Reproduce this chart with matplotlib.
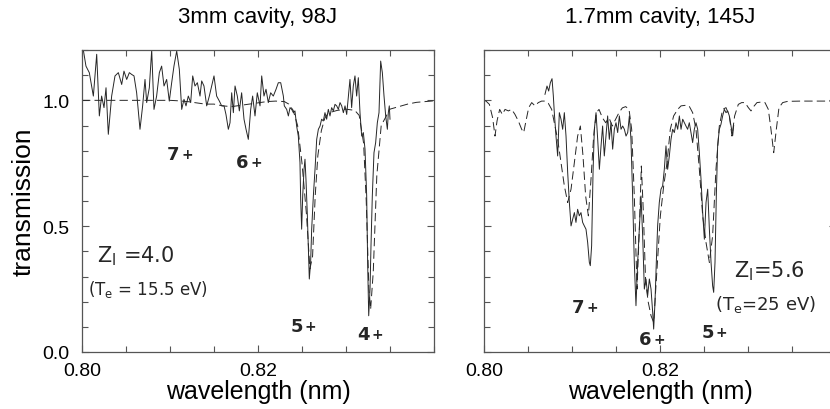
import matplotlib
matplotlib.use("Agg")
import matplotlib.pyplot as plt
from matplotlib.ticker import MultipleLocator, FixedLocator

plt.rcParams["font.family"] = ["Liberation Sans Narrow", "Liberation Sans", "DejaVu Sans"]
plt.rcParams["lines.scale_dashes"] = False
plt.rcParams["mathtext.fontset"] = "custom"
plt.rcParams["mathtext.rm"] = "DejaVu Sans"

ink = '#262626'

# ---- 3mm cavity, 98J : measured (solid) and model (dashed) ----
wl_meas_a = [0.80015, 0.80045, 0.80083, 0.80129, 0.80167, 0.80197, 0.80223, 0.80250, 0.80273, 0.80299,
             0.80337, 0.80375, 0.80413, 0.80451, 0.80477, 0.80508, 0.80538, 0.80564, 0.80591, 0.80621,
             0.80659, 0.80689, 0.80716, 0.80735, 0.80765, 0.80792, 0.80818, 0.80848, 0.80879, 0.80905,
             0.80932, 0.80962, 0.80992, 0.81019, 0.81045, 0.81076, 0.81106, 0.81133, 0.81159, 0.81182,
             0.81208, 0.81235, 0.81258, 0.81284, 0.81311, 0.81341, 0.81360, 0.81386, 0.81417, 0.81447,
             0.81473, 0.81500, 0.81530, 0.81561, 0.81587, 0.81614, 0.81636, 0.81663, 0.81682, 0.81701,
             0.81720, 0.81739, 0.81765, 0.81788, 0.81814, 0.81841, 0.81864, 0.81890, 0.81917, 0.81939,
             0.81966, 0.81992, 0.82023, 0.82042, 0.82068, 0.82091, 0.82117, 0.82144, 0.82174, 0.82205,
             0.82231, 0.82258, 0.82288, 0.82299, 0.82326, 0.82345, 0.82364, 0.82383, 0.82402, 0.82420,
             0.82439, 0.82458, 0.82477, 0.82485, 0.82496, 0.82508, 0.82523, 0.82534, 0.82545, 0.82561,
             0.82572, 0.82583, 0.82598, 0.82610, 0.82629, 0.82648, 0.82667, 0.82686, 0.82705, 0.82723,
             0.82742, 0.82761, 0.82780, 0.82799, 0.82818, 0.82837, 0.82856, 0.82875, 0.82894, 0.82913,
             0.82932, 0.82951, 0.82970, 0.82989, 0.83008, 0.83027, 0.83045, 0.83064, 0.83083, 0.83102,
             0.83121, 0.83140, 0.83159, 0.83178, 0.83197, 0.83216, 0.83235, 0.83246, 0.83258, 0.83273,
             0.83284, 0.83299, 0.83318, 0.83337, 0.83356, 0.83375, 0.83394, 0.83413, 0.83432, 0.83451,
             0.83470, 0.83481, 0.83492, 0.83500]
tr_meas_a = [1.200, 1.136, 1.110, 1.017, 1.183, 0.938, 1.017, 0.971, 1.050, 0.865,
             1.017, 1.097, 1.110, 1.063, 1.116, 1.083, 1.110, 1.103, 1.097, 1.030,
             0.885, 0.978, 1.083, 0.991, 1.050, 1.200, 0.964, 1.017, 1.110, 1.136,
             1.057, 1.083, 0.997, 1.070, 1.136, 1.196, 1.123, 0.964, 1.004, 0.978,
             1.017, 0.991, 1.097, 1.057, 1.070, 1.017, 1.077, 1.057, 0.978, 1.017,
             1.057, 1.097, 1.017, 0.997, 0.978, 0.978, 0.944, 0.885, 0.911, 1.030,
             0.951, 1.057, 1.017, 0.958, 1.030, 0.925, 0.885, 0.845, 0.964, 1.017,
             0.938, 1.030, 0.978, 1.097, 1.017, 1.044, 0.991, 1.030, 1.017, 1.044,
             1.070, 1.070, 1.017, 0.978, 0.964, 0.938, 0.971, 0.964, 0.951, 0.958,
             0.898, 0.858, 0.753, 0.607, 0.488, 0.620, 0.726, 0.766, 0.687, 0.541,
             0.422, 0.290, 0.356, 0.488, 0.620, 0.726, 0.845, 0.885, 0.898, 0.925,
             0.918, 0.951, 0.925, 0.964, 0.938, 0.971, 0.958, 0.984, 0.978, 0.964,
             0.991, 0.978, 0.951, 0.978, 0.944, 1.017, 1.083, 0.971, 1.057, 1.097,
             1.017, 1.090, 0.951, 0.858, 0.872, 0.806, 0.620, 0.356, 0.144, 0.250,
             0.422, 0.620, 0.792, 0.832, 0.911, 0.951, 1.156, 1.110, 1.017, 0.938,
             0.885, 0.951, 0.978, 0.925]

wl_model_a = [0.8000, 0.8050, 0.8100, 0.8110, 0.8120, 0.8130, 0.8140, 0.8150, 0.8160, 0.8170,
              0.8180, 0.8190, 0.8200, 0.8210, 0.8220, 0.8230, 0.8235, 0.8240, 0.8245, 0.8250,
              0.8255, 0.8259, 0.8262, 0.8265, 0.8268, 0.8272, 0.8276, 0.8280, 0.8290, 0.8300,
              0.8310, 0.8315, 0.8320, 0.8323, 0.8326, 0.8328, 0.8331, 0.8335, 0.8340, 0.8350,
              0.8360, 0.8370, 0.8380, 0.8400]
tr_model_a = [1.000, 1.000, 1.000, 0.998, 0.995, 0.990, 0.985, 0.985, 0.978, 0.975,
              0.980, 0.985, 0.990, 0.995, 0.997, 0.995, 0.985, 0.960, 0.900, 0.750,
              0.550, 0.330, 0.380, 0.620, 0.780, 0.880, 0.930, 0.950, 0.960, 0.965,
              0.960, 0.940, 0.830, 0.600, 0.250, 0.170, 0.320, 0.700, 0.900, 0.965,
              0.975, 0.985, 0.992, 0.998]

# ---- 1.7mm cavity, 145J ----
wl_meas_b = [0.80693, 0.80716, 0.80735, 0.80754, 0.80773, 0.80788, 0.80799, 0.80818, 0.80837, 0.80856,
             0.80875, 0.80894, 0.80913, 0.80932, 0.80951, 0.80970, 0.80989, 0.81008, 0.81027, 0.81045,
             0.81064, 0.81083, 0.81102, 0.81121, 0.81140, 0.81159, 0.81178, 0.81197, 0.81208, 0.81223,
             0.81239, 0.81254, 0.81273, 0.81292, 0.81311, 0.81330, 0.81348, 0.81367, 0.81386, 0.81405,
             0.81424, 0.81443, 0.81462, 0.81481, 0.81500, 0.81519, 0.81538, 0.81557, 0.81576, 0.81595,
             0.81614, 0.81633, 0.81652, 0.81670, 0.81689, 0.81708, 0.81727, 0.81746, 0.81765, 0.81784,
             0.81803, 0.81822, 0.81841, 0.81860, 0.81879, 0.81898, 0.81917, 0.81928, 0.81943, 0.81958,
             0.81973, 0.81992, 0.82011, 0.82030, 0.82049, 0.82068, 0.82087, 0.82106, 0.82125, 0.82144,
             0.82163, 0.82182, 0.82201, 0.82220, 0.82239, 0.82258, 0.82277, 0.82295, 0.82314, 0.82333,
             0.82352, 0.82371, 0.82390, 0.82409, 0.82428, 0.82447, 0.82466, 0.82485, 0.82504, 0.82523,
             0.82542, 0.82561, 0.82580, 0.82598, 0.82610, 0.82625, 0.82640, 0.82655, 0.82674, 0.82693,
             0.82712, 0.82731, 0.82750, 0.82769, 0.82788, 0.82807, 0.82826, 0.82837]
tr_meas_b = [1.024, 1.057, 1.037, 1.070, 1.086, 1.017, 0.951, 0.858, 0.779, 0.951,
             0.925, 0.885, 0.951, 0.858, 0.713, 0.594, 0.501, 0.528, 0.554, 0.515,
             0.567, 0.541, 0.554, 0.515, 0.501, 0.488, 0.435, 0.356, 0.343, 0.422,
             0.713, 0.885, 0.951, 0.845, 0.726, 0.819, 0.898, 0.779, 0.858, 0.938,
             0.845, 0.911, 0.806, 0.885, 0.911, 0.872, 0.938, 0.885, 0.898, 0.885,
             0.858, 0.872, 0.938, 0.845, 0.620, 0.356, 0.184, 0.356, 0.488, 0.620,
             0.462, 0.250, 0.290, 0.224, 0.290, 0.250, 0.157, 0.091, 0.197, 0.356,
             0.501, 0.594, 0.647, 0.660, 0.726, 0.819, 0.726, 0.779, 0.845, 0.885,
             0.872, 0.911, 0.885, 0.938, 0.885, 0.925, 0.911, 0.898, 0.885, 0.911,
             0.872, 0.832, 0.885, 0.911, 0.885, 0.792, 0.687, 0.554, 0.448, 0.594,
             0.647, 0.488, 0.356, 0.263, 0.237, 0.356, 0.620, 0.819, 0.885, 0.905,
             0.938, 0.964, 0.951, 0.958, 0.938, 0.898, 0.860, 0.900]

wl_model_b = [0.80000, 0.80023, 0.80061, 0.80098, 0.80125, 0.80148, 0.80178, 0.80208, 0.80239, 0.80277,
              0.80314, 0.80352, 0.80390, 0.80428, 0.80451, 0.80477, 0.80508, 0.80542, 0.80580, 0.80617,
              0.80655, 0.80693, 0.80731, 0.80769, 0.80799, 0.80837, 0.80875, 0.80913, 0.80951, 0.80989,
              0.81027, 0.81064, 0.81095, 0.81125, 0.81155, 0.81186, 0.81216, 0.81246, 0.81277, 0.81307,
              0.81345, 0.81383, 0.81420, 0.81458, 0.81496, 0.81534, 0.81572, 0.81610, 0.81648, 0.81678,
              0.81708, 0.81739, 0.81765, 0.81788, 0.81811, 0.81837, 0.81867, 0.81898, 0.81928, 0.81966,
              0.82004, 0.82042, 0.82080, 0.82117, 0.82155, 0.82201, 0.82239, 0.82284, 0.82330, 0.82371,
              0.82409, 0.82447, 0.82485, 0.82523, 0.82561, 0.82598, 0.82636, 0.82674, 0.82712, 0.82750,
              0.82788, 0.82818, 0.82848, 0.82890, 0.82928, 0.82966, 0.83004, 0.83034, 0.83064, 0.83102,
              0.83148, 0.83193, 0.83231, 0.83261, 0.83292, 0.83322, 0.83352, 0.83394, 0.83451, 0.83602,
              0.84000]
tr_model_b = [1.000, 0.997, 0.984, 0.931, 0.858, 0.918, 0.964, 0.944, 0.964, 0.958,
              0.964, 0.944, 0.918, 0.885, 0.872, 0.918, 0.971, 0.991, 0.978, 0.991,
              0.997, 0.997, 0.988, 0.964, 0.911, 0.845, 0.753, 0.660, 0.594, 0.647,
              0.753, 0.858, 0.898, 0.779, 0.620, 0.541, 0.687, 0.858, 0.951, 0.964,
              0.931, 0.911, 0.931, 0.898, 0.925, 0.951, 0.970, 0.975, 0.964, 0.885,
              0.620, 0.250, 0.488, 0.739, 0.554, 0.276, 0.197, 0.144, 0.118, 0.329,
              0.541, 0.660, 0.753, 0.885, 0.938, 0.964, 0.978, 0.980, 0.978, 0.951,
              0.885, 0.726, 0.541, 0.435, 0.356, 0.462, 0.726, 0.898, 0.964, 0.971,
              0.938, 0.858, 0.938, 0.984, 0.991, 0.991, 0.971, 0.958, 0.975, 0.991,
              0.993, 0.991, 0.964, 0.885, 0.792, 0.885, 0.971, 0.991, 0.996, 0.997,
              0.997]

titles = ['3mm cavity, 98J', '1.7mm cavity, 145J']

# ion stage labels: (wavelength, transmission, charge)
ions_a = [(0.8111, 0.786, '7'), (0.8189, 0.754, '6'), (0.8251, 0.103, '5'), (0.8327, 0.071, '4')]
ions_b = [(0.8114, 0.179, '7'), (0.8190, 0.052, '6'), (0.8261, 0.079, '5')]


def ion_label(ax, x, y, n):
    ax.text(x, y, n, fontsize=13, fontweight='bold', color=ink, ha='right', va='center',
            family='DejaVu Sans')
    ax.annotate('+', (x, y), xytext=(1.5, 0), textcoords='offset points', fontsize=10,
                fontweight='bold', color=ink, ha='left', va='center', family='DejaVu Sans')


def style_axes(ax, ylabels):
    ax.set_xlim(0.80, 0.84)
    ax.set_ylim(0.0, 1.2)
    ax.xaxis.set_major_locator(FixedLocator([0.80, 0.82]))
    ax.xaxis.set_minor_locator(MultipleLocator(0.005))
    ax.yaxis.set_major_locator(FixedLocator([0.0, 0.5, 1.0]))
    ax.yaxis.set_minor_locator(MultipleLocator(0.1))
    ax.xaxis.set_major_formatter(plt.FuncFormatter(lambda v, p: '%.2f' % v))
    ax.yaxis.set_major_formatter(plt.FuncFormatter(lambda v, p: '%.1f' % v))
    ax.tick_params(which='both', direction='in', top=True, right=True, color='#555555',
                   labelsize=14, width=0.8)
    ax.tick_params(which='major', length=5)
    ax.tick_params(which='minor', length=4)
    ax.tick_params(axis='x', pad=7)
    ax.tick_params(axis='y', pad=9)
    if not ylabels:
        ax.tick_params(axis='y', labelleft=False)
    for s in ax.spines.values():
        s.set_color('#555555')
        s.set_linewidth(0.9)
    ax.set_xlabel('wavelength (nm)', fontsize=18, labelpad=0)


fig = plt.figure(figsize=(8.3, 4.1), dpi=100)
ax1 = fig.add_axes([82/830, 57/410, 352/830, 302/410])
ax2 = fig.add_axes([484/830, 57/410, 352/830, 302/410])

ax1.plot(wl_model_a, tr_model_a, color=ink, lw=0.7, dashes=(6, 3))
ax1.plot(wl_meas_a, tr_meas_a, color=ink, lw=0.7)
ax2.plot(wl_model_b, tr_model_b, color=ink, lw=0.7, dashes=(6, 3))
ax2.plot(wl_meas_b, tr_meas_b, color=ink, lw=0.7)

style_axes(ax1, True)
style_axes(ax2, False)
ax1.set_ylabel('transmission', fontsize=19, labelpad=5)

for ax, t in zip([ax1, ax2], titles):
    ax.set_title(t, fontsize=16, pad=20)

for x, y, n in ions_a:
    ion_label(ax1, x, y, n)
for x, y, n in ions_b:
    ion_label(ax2, x, y, n)

ax1.text(0.8017, 0.36, r'Z$_\mathregular{I}$ =4.0', fontsize=15, color=ink, family='DejaVu Sans')
ax1.text(0.8007, 0.23, r'(T$_\mathregular{e}$ = 15.5 eV)', fontsize=12, color=ink, family='DejaVu Sans')
ax2.text(0.8284, 0.30, r'Z$_\mathregular{I}$=5.6', fontsize=15, color=ink, family='DejaVu Sans')
ax2.text(0.8262, 0.17, r'(T$_\mathregular{e}$=25 eV)', fontsize=13, color=ink, family='DejaVu Sans')

fig.savefig('out.png', dpi=100)
